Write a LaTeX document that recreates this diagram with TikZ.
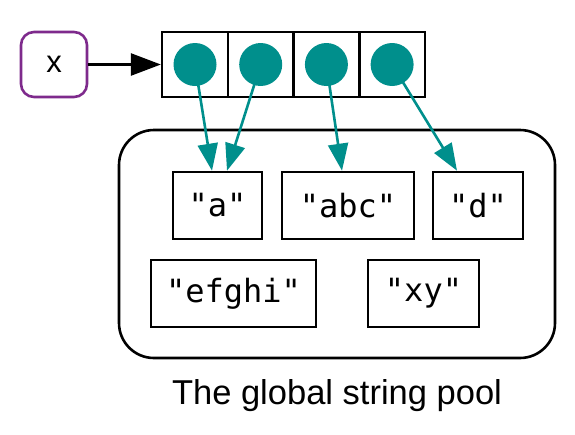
\documentclass[tikz,border=0pt]{standalone}
\usepackage{fontspec}
\setmainfont{Liberation Sans}
\newfontfamily\strfont{DejaVu Sans Mono}
\usetikzlibrary{arrows.meta}
\definecolor{tealc}{HTML}{008F8C}
\definecolor{purp}{HTML}{7E2A8C}
\tikzset{
  xbox/.style={draw=purp, line width=2.6pt, rounded corners=13pt, minimum width=66pt, minimum height=65pt, inner sep=0pt, font=\fontsize{31}{36}\selectfont},
  cell/.style={draw=black, line width=2.6pt, minimum width=65.7pt, minimum height=65pt, inner sep=0pt},
  dot/.style={circle, fill=tealc, minimum size=43pt, inner sep=0pt},
  pool/.style={draw=black, line width=2.6pt, rounded corners=35pt, minimum width=436pt, minimum height=228pt, inner sep=0pt},
  strbox/.style={draw=black, line width=2.6pt, minimum height=67pt, inner sep=0pt, font=\strfont\fontsize{32}{38}\selectfont},
  ptr/.style={draw=tealc, line width=2.6pt, -{Triangle[length=27pt,width=20pt]}},
  blk/.style={draw=black, line width=2.6pt, -{Triangle[length=30pt,width=22pt]}},
  caption/.style={font=\fontsize{34.5}{40}\selectfont}
}
\begin{document}
\begin{tikzpicture}[x=1pt,y=-1pt]
\useasboundingbox (0,0) rectangle (575,434);
\node[pool] (pool) at (337,244) {};
\node[xbox] (x) at (54,64.5) {x};
\node[cell] (c1) at (195,64.5) {};
\node[cell] (c2) at (260.7,64.5) {};
\node[cell] (c3) at (326.4,64.5) {};
\node[cell] (c4) at (392.1,64.5) {};
\node[dot] (d1) at (c1) {};
\node[dot] (d2) at (c2) {};
\node[dot] (d3) at (c3) {};
\node[dot] (d4) at (c4) {};
\node[strbox, minimum width=89pt] (sa) at (217.5,205.5) {"a"};
\node[strbox, minimum width=132pt] (sabc) at (348,205.5) {"abc"};
\node[strbox, minimum width=90pt] (sd) at (478,205.5) {"d"};
\node[strbox, minimum width=165pt] (se) at (233.5,293.5) {"efghi"};
\node[strbox, minimum width=111pt] (sxy) at (423.5,293.5) {"xy"};
\node[caption] (cap) at (337,396) {The global string pool};
\draw[blk] (x.east) -- (c1.west);
\draw[ptr] (d1.center) -- ([xshift=-5.5pt]sa.north);
\draw[ptr] (d2.center) -- ([xshift=9.5pt]sa.north);
\draw[ptr] (d3.center) -- ([xshift=-6pt]sabc.north);
\draw[ptr] (d4.center) -- ([xshift=-21pt]sd.north);
\end{tikzpicture}
\end{document}
